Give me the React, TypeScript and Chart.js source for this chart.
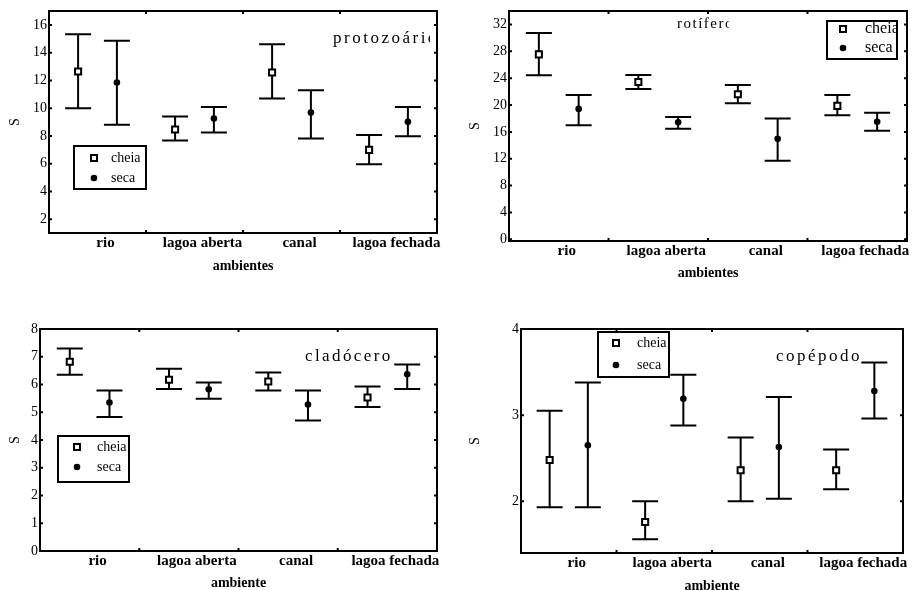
import React, { useEffect, useRef } from 'react';
import { Chart, registerables } from 'chart.js';
Chart.register(...registerables);

const categories = ['rio', 'lagoa aberta', 'canal', 'lagoa fechada'];
const seriesLabels = ['cheia', 'seca'];

// protozoários
const protoCheia = [12.64, 8.46, 12.57, 6.99];
const protoCheiaLow = [10.0, 7.67, 10.69, 5.96];
const protoCheiaHigh = [15.33, 9.4, 14.61, 8.07];
const protoSeca = [11.85, 9.25, 9.68, 9.01];
const protoSecaLow = [8.8, 8.24, 7.81, 7.98];
const protoSecaHigh = [14.85, 10.09, 11.29, 10.09];
const protoTicks = [2, 4, 6, 8, 10, 12, 14, 16];

// rotíferos
const rotCheia = [27.54, 23.43, 21.6, 19.87];
const rotCheiaLow = [24.42, 22.39, 20.26, 18.48];
const rotCheiaHigh = [30.71, 24.47, 22.99, 21.5];
const rotSeca = [19.42, 17.44, 14.96, 17.49];
const rotSecaLow = [17.0, 16.45, 11.69, 16.15];
const rotSecaHigh = [21.5, 18.23, 17.98, 18.83];
const rotTicks = [0, 4, 8, 12, 16, 20, 24, 28, 32];

// cladóceros
const cladCheia = [6.82, 6.17, 6.11, 5.53];
const cladCheiaLow = [6.35, 5.84, 5.78, 5.19];
const cladCheiaHigh = [7.3, 6.57, 6.43, 5.93];
const cladSeca = [5.35, 5.83, 5.28, 6.37];
const cladSecaLow = [4.83, 5.49, 4.7, 5.84];
const cladSecaHigh = [5.78, 6.07, 5.78, 6.72];
const cladTicks = [0, 1, 2, 3, 4, 5, 6, 7, 8];

// copépodos
const copCheia = [2.48, 1.76, 2.36, 2.36];
const copCheiaLow = [1.93, 1.56, 2.0, 2.14];
const copCheiaHigh = [3.05, 2.0, 2.74, 2.6];
const copSeca = [2.65, 3.19, 2.63, 3.28];
const copSecaLow = [1.93, 2.88, 2.03, 2.96];
const copSecaHigh = [3.38, 3.47, 3.21, 3.61];
const copTicks = [2, 3, 4];

const FONT = "'Liberation Serif', 'Times New Roman', serif";
const GROUP_OFFSET = 0.2;
const CAP = 13;

type PanelCfg = any;

const panels: PanelCfg[] = [
  {
    key: 'proto', title: 'protozoários', xTitle: 'ambientes', yMin: 1, yMax: 17, ticks: protoTicks,
    cheia: [protoCheia, protoCheiaLow, protoCheiaHigh], seca: [protoSeca, protoSecaLow, protoSecaHigh],
    box: { left: 0, top: 0, w: 461, h: 290, clipW: 450 },
    plot: { l: 49, t: 11, r: 437, b: 233 },
    xTitlePad: 15.6, yTitlePad: 6.6,
    tbox: { x: 333, y: 39, clip: 430, size: 17, spacing: 2.5 },
    legend: { l: 74, t: 146, r: 146, b: 189, mx: 94, tx: 111, y1: 158, y2: 178, size: 14 },
  },
  {
    key: 'rot', title: 'rotíferos', xTitle: 'ambientes', yMin: -0.25, yMax: 34, ticks: rotTicks,
    cheia: [rotCheia, rotCheiaLow, rotCheiaHigh], seca: [rotSeca, rotSecaLow, rotSecaHigh],
    box: { left: 461, top: 0, w: 461, h: 290, clipW: 461 },
    plot: { l: 509, t: 11, r: 907, b: 241 },
    xTitlePad: 8.6, yTitlePad: 5.6,
    tbox: { x: 677, y: 24, clip: 729, size: 15, spacing: 1.5 },
    legend: { l: 827, t: 21, r: 897, b: 59, mx: 843, tx: 865, y1: 29, y2: 48, size: 16 },
  },
  {
    key: 'clad', title: 'cladócero', xTitle: 'ambiente', yMin: 0, yMax: 8, ticks: cladTicks,
    cheia: [cladCheia, cladCheiaLow, cladCheiaHigh], seca: [cladSeca, cladSecaLow, cladSecaHigh],
    box: { left: 0, top: 300, w: 461, h: 290, clipW: 457 },
    plot: { l: 40, t: 329, r: 437, b: 551 },
    xTitlePad: -1.4, yTitlePad: 6.6,
    tbox: { x: 305, y: 357, clip: 437, size: 17, spacing: 2.4 },
    legend: { l: 58, t: 436, r: 129, b: 482, mx: 77, tx: 97, y1: 447, y2: 467, size: 14 },
  },
  {
    key: 'cop', title: 'copépodos', xTitle: 'ambiente', yMin: 1.4, yMax: 4, ticks: copTicks,
    cheia: [copCheia, copCheiaLow, copCheiaHigh], seca: [copSeca, copSecaLow, copSecaHigh],
    box: { left: 461, top: 300, w: 461, h: 290, clipW: 455 },
    plot: { l: 521, t: 329, r: 903, b: 553 },
    xTitlePad: -4.4, yTitlePad: 5.6,
    tbox: { x: 776, y: 357, clip: 859, size: 17, spacing: 2.5 },
    legend: { l: 598, t: 332, r: 669, b: 377, mx: 616, tx: 637, y1: 343, y2: 365, size: 14 },
  },
];

function drawSquare(ctx: CanvasRenderingContext2D, x: number, y: number) {
  ctx.save();
  ctx.fillStyle = '#fff';
  ctx.strokeStyle = '#000';
  ctx.lineWidth = 2;
  ctx.fillRect(x - 3, y - 3, 6, 6);
  ctx.strokeRect(x - 3, y - 3, 6, 6);
  ctx.restore();
}
function drawDot(ctx: CanvasRenderingContext2D, x: number, y: number) {
  ctx.save();
  ctx.fillStyle = '#000';
  ctx.beginPath();
  ctx.arc(x, y, 3.3, 0, Math.PI * 2);
  ctx.fill();
  ctx.restore();
}

function makeDecor(p: PanelCfg) {
  const ox = p.box.left;
  const oy = p.box.top;
  return {
    id: 'decor_' + p.key,
    beforeDatasetsDraw(chart: any) {
      const ctx = chart.ctx as CanvasRenderingContext2D;
      const ys = chart.scales.y;
      ctx.save();
      ctx.strokeStyle = '#000';
      ctx.lineWidth = 2;
      chart.data.datasets.forEach((ds: any, di: number) => {
        const meta = chart.getDatasetMeta(di);
        meta.data.forEach((el: any, j: number) => {
          const x = el.x;
          const lo = ys.getPixelForValue(ds.errLow[j]);
          const hi = ys.getPixelForValue(ds.errHigh[j]);
          ctx.beginPath();
          ctx.moveTo(x, lo);
          ctx.lineTo(x, hi);
          ctx.moveTo(x - CAP, lo);
          ctx.lineTo(x + CAP, lo);
          ctx.moveTo(x - CAP, hi);
          ctx.lineTo(x + CAP, hi);
          ctx.stroke();
        });
      });
      ctx.restore();
    },
    afterDatasetsDraw(chart: any) {
      const ctx = chart.ctx as CanvasRenderingContext2D;
      const a = chart.chartArea;
      const xs = chart.scales.x;
      const ys = chart.scales.y;
      ctx.save();
      ctx.strokeStyle = '#000';
      // frame
      ctx.lineWidth = 2;
      ctx.strokeRect(a.left, a.top, a.right - a.left, a.bottom - a.top);
      // inward ticks
      ctx.beginPath();
      p.ticks.forEach((v: number) => {
        const y = ys.getPixelForValue(v);
        ctx.moveTo(a.left, y);
        ctx.lineTo(a.left + 3, y);
        ctx.moveTo(a.right, y);
        ctx.lineTo(a.right - 3, y);
      });
      for (let i = 1; i < categories.length; i++) {
        const x = xs.getPixelForValue(i);
        ctx.moveTo(x, a.top);
        ctx.lineTo(x, a.top + 3);
        ctx.moveTo(x, a.bottom);
        ctx.lineTo(x, a.bottom - 3);
      }
      ctx.stroke();

      // in-plot title
      const t = p.tbox;
      ctx.save();
      ctx.beginPath();
      ctx.rect(a.left, a.top, t.clip - ox - a.left, a.bottom - a.top);
      ctx.clip();
      ctx.fillStyle = '#000';
      ctx.font = `${t.size}px ${FONT}`;
      (ctx as any).letterSpacing = `${t.spacing}px`;
      ctx.textAlign = 'left';
      ctx.textBaseline = 'middle';
      ctx.fillText(p.title, t.x - ox, t.y - oy);
      ctx.restore();

      // legend
      const L = p.legend;
      ctx.fillStyle = '#fff';
      ctx.fillRect(L.l - ox, L.t - oy, L.r - L.l, L.b - L.t);
      ctx.lineWidth = 2;
      ctx.strokeStyle = '#000';
      ctx.strokeRect(L.l - ox, L.t - oy, L.r - L.l, L.b - L.t);
      drawSquare(ctx, L.mx - ox, L.y1 - oy);
      drawDot(ctx, L.mx - ox, L.y2 - oy);
      ctx.save();
      ctx.beginPath();
      ctx.rect(L.l - ox + 1, L.t - oy + 1, L.r - L.l - 2, L.b - L.t - 2);
      ctx.clip();
      ctx.fillStyle = '#000';
      ctx.font = `${L.size}px ${FONT}`;
      ctx.textAlign = 'left';
      ctx.textBaseline = 'middle';
      ctx.fillText(seriesLabels[0], L.tx - ox, L.y1 - oy);
      ctx.fillText(seriesLabels[1], L.tx - ox, L.y2 - oy);
      ctx.restore();
      ctx.restore();
    },
  };
}

function Panel({ p }: { p: PanelCfg }) {
  const ref = useRef<HTMLCanvasElement>(null);
  useEffect(() => {
    const c = ref.current!;
    const ox = p.box.left;
    const oy = p.box.top;
    const mk = (arr: number[], off: number) => arr.map((v, i) => ({ x: i + 0.5 + off, y: v }));
    const chart = new Chart(c, {
      type: 'scatter',
      data: {
        datasets: [
          {
            label: seriesLabels[0],
            data: mk(p.cheia[0], -GROUP_OFFSET),
            errLow: p.cheia[1],
            errHigh: p.cheia[2],
            pointStyle: 'rect',
            pointRadius: 4.3,
            pointBackgroundColor: '#fff',
            pointBorderColor: '#000',
            pointBorderWidth: 2,
          } as any,
          {
            label: seriesLabels[1],
            data: mk(p.seca[0], GROUP_OFFSET),
            errLow: p.seca[1],
            errHigh: p.seca[2],
            pointStyle: 'circle',
            pointRadius: 3.3,
            pointBackgroundColor: '#000',
            pointBorderColor: '#000',
            pointBorderWidth: 0,
          } as any,
        ],
      },
      options: {
        responsive: false,
        animation: false,
        events: [],
        layout: {
          padding: {
            left: 0,
            top: p.plot.t - oy,
            right: p.box.w - (p.plot.r - ox),
            bottom: 0,
          },
        },
        plugins: { legend: { display: false }, tooltip: { enabled: false } },
        scales: {
          x: {
            type: 'linear',
            min: 0,
            max: categories.length,
            afterBuildTicks: (s: any) => {
              s.ticks = categories.map((_, i) => ({ value: i + 0.5 }));
            },
            afterFit: (s: any) => {
              s.height = p.box.h - (p.plot.b - oy);
            },
            grid: { display: false, drawTicks: false },
            border: { display: false },
            ticks: {
              callback: (v: any) => categories[Math.floor(Number(v))],
              font: { family: FONT, size: 15, weight: 'bold' },
              color: '#000',
              padding: 1,
              maxRotation: 0,
              autoSkip: false,
              labelOffset: 8,
            },
            title: {
              display: true,
              text: p.xTitle,
              color: '#000',
              font: { family: FONT, size: 14, weight: 'bold', lineHeight: 1.2 },
              padding: { top: 0, bottom: p.xTitlePad },
            },
          },
          y: {
            type: 'linear',
            min: p.yMin,
            max: p.yMax,
            afterBuildTicks: (s: any) => {
              s.ticks = p.ticks.map((v: number) => ({ value: v }));
            },
            afterFit: (s: any) => {
              s.width = p.plot.l - ox;
            },
            grid: { display: false, drawTicks: false },
            border: { display: false },
            ticks: {
              font: { family: FONT, size: 14 },
              color: '#000',
              padding: 2,
            },
            title: {
              display: true,
              text: 'S',
              color: '#000',
              font: { family: FONT, size: 14, lineHeight: 1.2 },
              padding: { top: p.yTitlePad, bottom: 0 },
            },
          },
        },
      } as any,
      plugins: [makeDecor(p)],
    });
    return () => chart.destroy();
  }, [p]);
  return (
    <div
      style={{
        position: 'absolute',
        left: p.box.left,
        top: p.box.top,
        width: p.box.clipW,
        height: p.box.h,
        overflow: 'hidden',
      }}
    >
      <canvas ref={ref} width={p.box.w} height={p.box.h} style={{ display: 'block' }} />
    </div>
  );
}

export default function App() {
  return (
    <div
      style={{
        position: 'absolute',
        left: 0,
        top: 0,
        width: 922,
        height: 590,
        background: '#fff',
        overflow: 'hidden',
      }}
    >
      {panels.map((p) => (
        <Panel key={p.key} p={p} />
      ))}
    </div>
  );
}
